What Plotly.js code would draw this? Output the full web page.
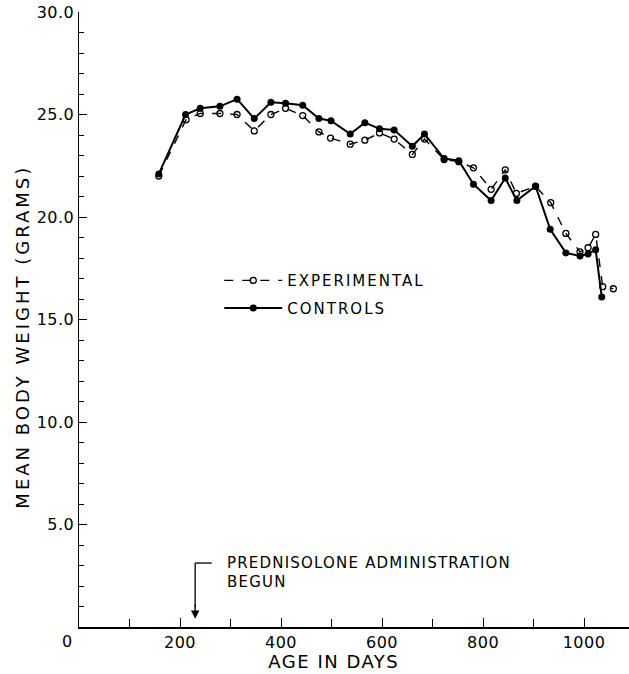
<!DOCTYPE html>
<html>
<head>
<meta charset="utf-8">
<script src="https://cdn.plot.ly/plotly-3.0.1.min.js"></script>
<style>
  html, body { margin: 0; padding: 0; background: #fff; }
  #chart { width: 629px; height: 674px; }
  .legendtext { letter-spacing: 2px; }
  .annotation-text { letter-spacing: 1.2px; }
  .xtick text, .ytick text { letter-spacing: 0.5px; }
</style>
</head>
<body>
<div id="chart"></div>
<script>
// Age in days for each weighing
const controlDays = [158, 211, 240, 279, 313, 347, 380, 409, 443, 475, 499, 537, 566, 595, 624, 660, 684, 723, 752, 781, 816, 844, 867, 904, 933, 964, 992, 1008, 1023, 1035];
const controlWeights = [22.1, 25.0, 25.3, 25.4, 25.75, 24.8, 25.6, 25.55, 25.45, 24.8, 24.7, 24.05, 24.6, 24.3, 24.25, 23.45, 24.05, 22.85, 22.75, 21.6, 20.8, 21.9, 20.8, 21.5, 19.4, 18.25, 18.1, 18.2, 18.4, 16.1];

const expDays = [158, 212, 240, 279, 313, 347, 380, 409, 443, 475, 498, 537, 566, 595, 624, 660, 684, 723, 752, 781, 816, 844, 866, 904, 934, 964, 992, 1008, 1023, 1037, 1058];
const expWeights = [22.0, 24.75, 25.05, 25.05, 25.0, 24.2, 25.0, 25.3, 24.95, 24.15, 23.85, 23.55, 23.75, 24.1, 23.8, 23.05, 23.8, 22.8, 22.7, 22.4, 21.35, 22.3, 21.15, 21.5, 20.7, 19.2, 18.3, 18.5, 19.15, 16.6, 16.5];

const seriesNames = ["EXPERIMENTAL", "CONTROLS"];
const xTickVals = [200, 400, 600, 800, 1000];
const xTickText = ["200", "400", "600", "800", "1000"];
const xMinorTicks = [100, 300, 500, 700, 900];
const yTickVals = [5, 10, 15, 20, 25, 30];
const yTickText = ["5.0", "10.0", "15.0", "20.0", "25.0", "30.0"];
const yMinorTicks = [1, 2, 3, 4, 6, 7, 8, 9, 11, 12, 13, 14, 16, 17, 18, 19, 21, 22, 23, 24, 26, 27, 28, 29];
const treatmentStartDay = 230;
const xTitle = "AGE IN DAYS";
const yTitle = "MEAN BODY WEIGHT (GRAMS)";
const noteLines = ["PREDNISOLONE ADMINISTRATION", "BEGUN"];

const FONT = "DejaVu Sans, Arial, sans-serif";

const traces = [
  {
    x: expDays, y: expWeights, name: seriesNames[0], type: "scatter", mode: "lines+markers",
    line: { color: "#000", width: 1.4, dash: "dash" },
    marker: { symbol: "circle-open", size: 6, color: "#000", line: { width: 1.3, color: "#000" } },
    legendgroup: "a"
  },
  {
    x: controlDays, y: controlWeights, name: seriesNames[1], type: "scatter", mode: "lines+markers",
    line: { color: "#000", width: 2 },
    marker: { symbol: "circle", size: 7, color: "#000" },
    legendgroup: "b"
  }
];

const layout = {
  width: 629, height: 674,
  margin: { l: 79, r: 0, t: 12, b: 47 },
  paper_bgcolor: "#fff", plot_bgcolor: "#fff",
  font: { family: FONT, color: "#000", size: 15 },
  showlegend: true,
  legend: {
    x: 0.255, y: 0.59, xanchor: "left", yanchor: "top",
    bgcolor: "rgba(0,0,0,0)", font: { size: 15, family: FONT },
    tracegroupgap: 5, itemwidth: 58
  },
  xaxis: {
    range: [0, 1089], showgrid: false, zeroline: false,
    showline: true, linecolor: "#000", linewidth: 1.5,
    ticks: "inside", ticklen: 9, tickwidth: 1, tickcolor: "#000",
    tickvals: xTickVals, ticktext: xTickText,
    minor: { tickvals: xMinorTicks, ticks: "inside", ticklen: 8, tickwidth: 1, tickcolor: "#000" },
    tickfont: { size: 16, family: FONT },
    automargin: false
  },
  yaxis: {
    range: [0, 30], showgrid: false, zeroline: false,
    showline: true, linecolor: "#000", linewidth: 1.5,
    ticks: "inside", ticklen: 8, tickwidth: 1, tickcolor: "#000",
    tickvals: yTickVals, ticktext: yTickText,
    minor: { tickvals: yMinorTicks, ticks: "inside", ticklen: 5, tickwidth: 1, tickcolor: "#000" },
    tickfont: { size: 16, family: FONT },
    automargin: false
  },
  shapes: [
    { type: "line", xref: "x", yref: "y", x0: treatmentStartDay, x1: treatmentStartDay, y0: 3.12, y1: 1.0, line: { color: "#000", width: 1.3 } },
    { type: "line", xref: "x", yref: "y", x0: treatmentStartDay, x1: 263, y0: 3.12, y1: 3.12, line: { color: "#000", width: 1.3 } }
  ],
  annotations: [
    { x: treatmentStartDay, y: 0.4, xref: "x", yref: "y", text: "", showarrow: true,
      ax: 0, ay: -16, arrowhead: 2, arrowsize: 1.2, arrowwidth: 1.4, arrowcolor: "#000" },
    { x: 289, y: 3.12, xref: "x", yref: "y", xanchor: "left", yanchor: "middle", align: "left",
      text: noteLines[0], showarrow: false, font: { size: 15, family: FONT } },
    { x: 289, y: 2.2, xref: "x", yref: "y", xanchor: "left", yanchor: "middle", align: "left",
      text: noteLines[1], showarrow: false, font: { size: 15, family: FONT } },
    { x: 0, y: 0, xref: "paper", yref: "paper", xanchor: "right", yanchor: "top",
      xshift: -4, yshift: -3, text: "0", showarrow: false, font: { size: 16, family: FONT } },
    { x: 0.4636, y: -0.0565, xref: "paper", yref: "paper", xanchor: "center", yanchor: "middle",
      text: xTitle, showarrow: false, font: { size: 18, family: FONT } },
    { x: -0.1036, y: 0.4715, xref: "paper", yref: "paper", xanchor: "center", yanchor: "middle",
      textangle: -90, text: yTitle, showarrow: false, font: { size: 18, family: FONT } }
  ]
};

Plotly.newPlot("chart", traces, layout, { staticPlot: true, displayModeBar: false }).then(function () {
  // wider letter spacing for the titles, like the hand lettering
  const anns = document.querySelectorAll(".annotation-text");
  anns.forEach(function (t) {
    if (t.textContent === yTitle) t.style.letterSpacing = "3px";
    if (t.textContent === xTitle) t.style.letterSpacing = "1.5px";
  });
});
</script>
</body>
</html>
